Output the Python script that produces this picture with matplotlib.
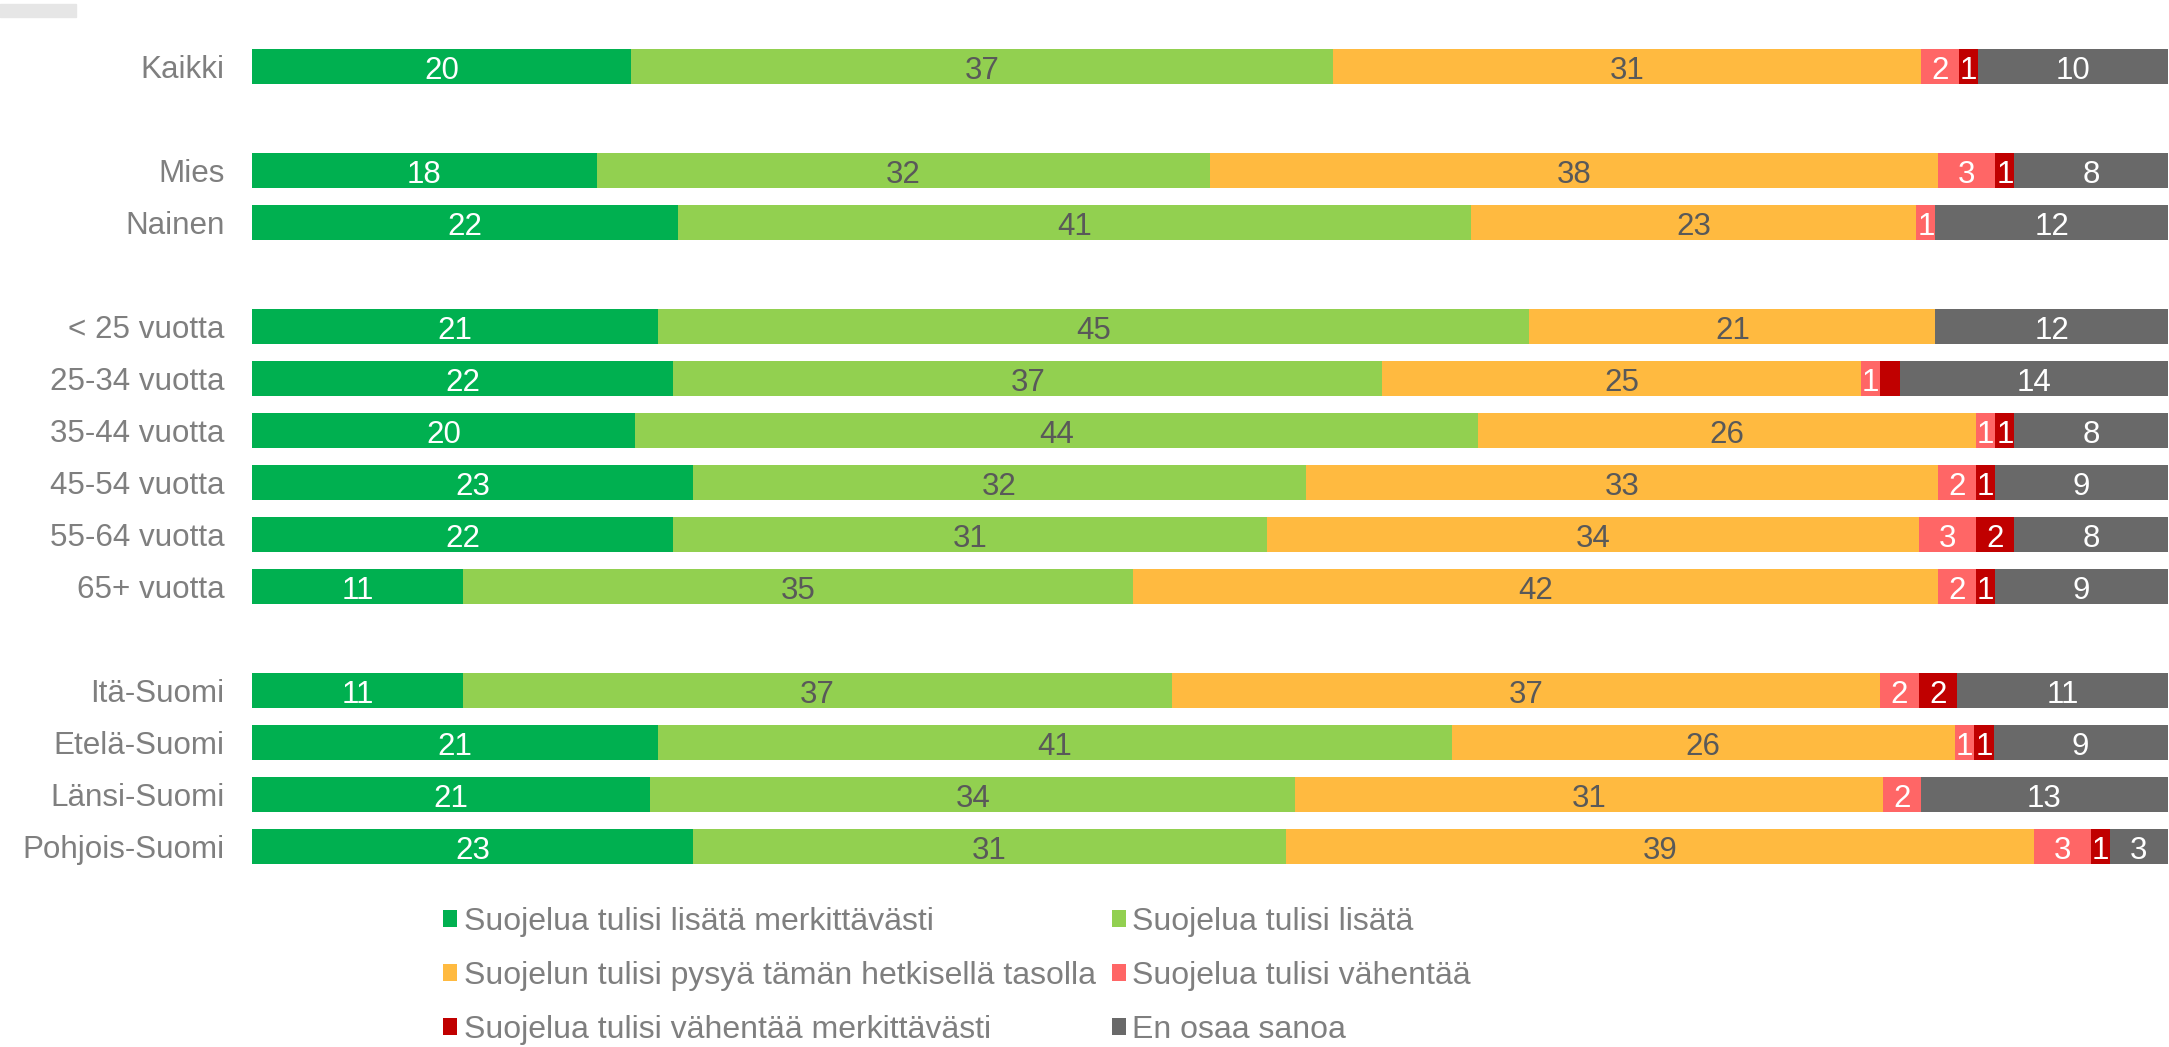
"""
Stacked 100 % bar chart: views on protection level by respondent group
"""

import matplotlib

matplotlib.use("Agg")
import matplotlib.pyplot as plt
import numpy as np
from matplotlib.patches import Rectangle

plt.rcParams["font.family"] = ["Liberation Sans", "DejaVu Sans"]

categories = [
    "Kaikki",
    "Mies",
    "Nainen",
    "< 25 vuotta",
    "25-34 vuotta",
    "35-44 vuotta",
    "45-54 vuotta",
    "55-64 vuotta",
    "65+ vuotta",
    "Itä-Suomi",
    "Etelä-Suomi",
    "Länsi-Suomi",
    "Pohjois-Suomi",
]
# a blank row is left before these categories
gap_before = ["Mies", "< 25 vuotta", "Itä-Suomi"]

series_names = [
    "Suojelua tulisi lisätä merkittävästi",
    "Suojelua tulisi lisätä",
    "Suojelun tulisi pysyä tämän hetkisellä tasolla",
    "Suojelua tulisi vähentää",
    "Suojelua tulisi vähentää merkittävästi",
    "En osaa sanoa",
]
merk_lisata = [20, 18, 22, 21, 22, 20, 23, 22, 11, 11, 21, 21, 23]
lisata = [37, 32, 41, 45, 37, 44, 32, 31, 35, 37, 41, 34, 31]
pysya = [31, 38, 23, 21, 25, 26, 33, 34, 42, 37, 26, 31, 39]
vahentaa = [2, 3, 1, 0, 1, 1, 2, 3, 2, 2, 1, 2, 3]
merk_vahentaa = [1, 1, 0, 0, 1, 1, 1, 2, 1, 2, 1, 0, 1]
eos = [10, 8, 12, 12, 14, 8, 9, 8, 9, 11, 9, 13, 3]
# segments drawn without a value label in the original
unlabeled = [("25-34 vuotta", "Suojelua tulisi vähentää merkittävästi")]

colors = ["#00B050", "#92D050", "#FFBA40", "#FF6666", "#C00000", "#696969"]
label_colors = ["white", "#595959", "#595959", "white", "white", "white"]

values = np.array([merk_lisata, lisata, pysya, vahentaa, merk_vahentaa, eos], dtype=float)
shares = values / values.sum(axis=0) * 100

# y positions with blank rows between groups
ypos = []
y = 0
for cat in categories:
    if cat in gap_before:
        y += 1
    ypos.append(y)
    y += 1
ypos = np.array(ypos)

fig = plt.figure(figsize=(21.69, 10.47), dpi=100)
ax = fig.add_axes([0.1162, 0.1668, 0.8832, 0.7946])

left = np.zeros(len(categories))
handles = []
for i, name in enumerate(series_names):
    bars = ax.barh(ypos, shares[i], left=left, height=0.665, color=colors[i],
                   label=name, linewidth=0)
    handles.append(bars)
    for j, cat in enumerate(categories):
        if values[i, j] == 0 or (cat, name) in unlabeled:
            continue
        # nudge down a little, labels sit slightly below the bar middle
        ax.text(left[j] + shares[i, j] / 2, ypos[j] + 0.08, f"{values[i, j]:.0f}",
                ha="center", va="center", color=label_colors[i], fontsize=22.5)
    left += shares[i]

ax.set_xlim(0, 100)
ax.set_ylim(y - 0.5, -0.5)
ax.set_yticks(ypos)
ax.set_yticklabels(categories, fontsize=22.6, color="#7F7F7F")
ax.tick_params(axis="y", length=0, pad=20)
ax.set_xticks([])
for side in ax.spines.values():
    side.set_visible(False)

# legend rows read left to right
order = [0, 2, 4, 1, 3, 5]
fig.legend([handles[k] for k in order], [series_names[k] for k in order],
           loc="upper left", bbox_to_anchor=(0.2042, 0.1335), ncol=2,
           frameon=False, fontsize=23, labelcolor="#7F7F7F",
           handlelength=0.45, handleheight=0.45, handletextpad=0.2,
           columnspacing=0.5, labelspacing=0.74, borderpad=0, borderaxespad=0)

# small grey tab in the top left corner
fig.patches.append(Rectangle((0, 1 - 17 / 1047), 76 / 2169, 13 / 1047,
                             transform=fig.transFigure, color="#E6E6E6", zorder=0))

fig.savefig("out.png", dpi=100)
